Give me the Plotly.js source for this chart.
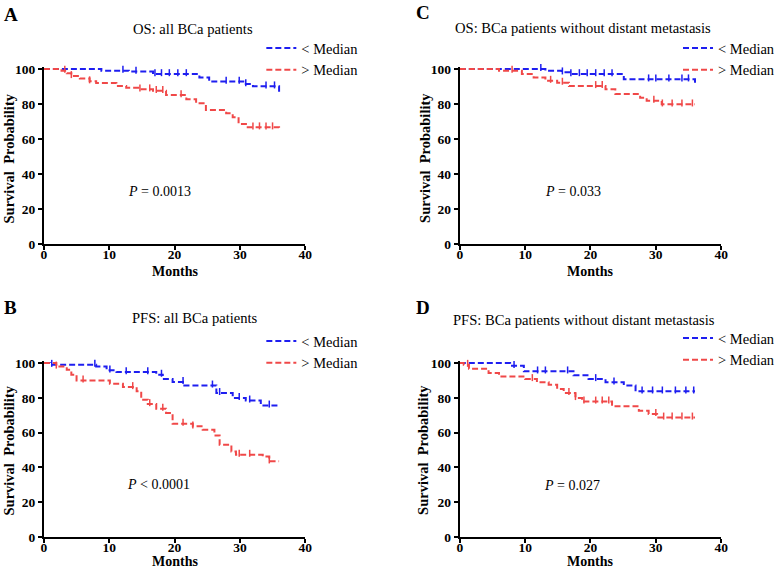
<!DOCTYPE html>
<html>
<head>
<meta charset="utf-8">
<script src="https://cdn.plot.ly/plotly-3.0.1.min.js"></script>
<style>html,body{margin:0;padding:0;background:#fff;}#chart{width:780px;height:571px;}</style>
</head>
<body>
<div id="chart"></div>
<script>
// ---- Data (months, survival %) ----
const panelLetters = ["A", "B", "C", "D"];
const panelTitles = [
  "OS: all BCa patients",
  "PFS: all BCa patients",
  "OS: BCa patients without distant metastasis",
  "PFS: BCa patients without distant metastasis"
];
const pValues = ["<i>P</i> = 0.0013", "<i>P</i> < 0.0001", "<i>P</i> = 0.033", "<i>P</i> = 0.027"];
const seriesNames = ["&lt; Median", "&gt; Median"];
const xTitle = "Months";
const yTitle = "Survival  Probability";
const xTicks = [0, 10, 20, 30, 40];
const yTicks = [0, 20, 40, 60, 80, 100];

// A: OS all patients
const tA_low  = [0, 8.8, 13, 16.7, 23.8, 25.3, 30.9, 32, 36, 36];
const sA_low  = [100, 99, 98.5, 97.1, 95.2, 92.8, 91.4, 90.1, 90.1, 85.5];
const cA_low  = [12.1, 14.1, 17, 18, 19.2, 20.5, 21.8, 27.9, 29.9, 30.9, 34, 35.3];
const tA_high = [0, 2.7, 3.5, 4.2, 5.5, 7, 8, 11.1, 12.6, 14.7, 16.7, 18.7, 21.8, 23.3, 24.8, 27.9, 28.9, 29.8, 31.2, 36, 36];
const sA_high = [100, 99, 97.5, 96, 94.5, 93, 92, 90.3, 89.3, 88.4, 87.5, 85.1, 82.7, 80.4, 76.6, 74.7, 72.4, 68.6, 66.7, 66.7, 65];
const cA_high = [3.2, 4.2, 7, 14.7, 16.2, 17.2, 18.2, 21, 32, 33, 34, 35];

// B: PFS all patients
const tB_low  = [0, 0.9, 8.0, 9.6, 11.1, 17.2, 18.2, 19.7, 21.5, 26.4, 28.9, 30.9, 33.2, 36];
const sB_low  = [100, 99, 98, 95.8, 94.8, 93.3, 90.8, 89.1, 87.1, 82.8, 79.9, 78.5, 75.6, 75.6];
const cB_low  = [1.2, 7.8, 10.1, 12.6, 15.9, 18, 21.3, 25.8, 26.9, 29.9, 31.5, 34.5];
const tB_high = [0, 1.9, 3.5, 4.2, 5.0, 10.1, 12.1, 14.2, 14.9, 15.9, 17.2, 18.7, 19.7, 22.8, 24.3, 26.1, 26.9, 28.7, 29.4, 33.5, 34.5, 36];
const sB_high = [100, 98, 96.1, 93.3, 90, 88.1, 86.2, 83.7, 78.9, 76.4, 73.7, 71.3, 65.1, 63.6, 61.7, 58.4, 53, 49.2, 47.3, 46.3, 43.5, 43.5];
const cB_high = [1.9, 6, 13.6, 16.2, 18.2, 21.3, 22.8, 29.9, 31.5, 34.5];

// C: OS without distant metastasis
const tC_low  = [0, 13.1, 15.6, 16.9, 25.1, 36, 36];
const sC_low  = [100, 99, 98.1, 97.1, 94.1, 94.1, 92.2];
const cC_low  = [12.4, 15.7, 17, 18.3, 19.5, 20.8, 22.1, 23.3, 28.9, 30, 32, 34, 35];
const tC_high = [0, 6.0, 9.5, 11.3, 13.1, 14.9, 16.7, 22.3, 23.8, 27.6, 28.6, 30.9, 36];
const sC_high = [100, 99, 97.1, 95.2, 93.3, 92.2, 90.3, 88.4, 85.7, 83.6, 81.9, 79.8, 79.8];
const cC_high = [8, 13.9, 15.7, 20.8, 21.8, 29.7, 31, 32.5, 34, 35.6];

// D: PFS without distant metastasis
const tD_low  = [0, 7.7, 9.8, 17.4, 19.7, 22.3, 25.1, 26.9, 36];
const sD_low  = [100, 98.4, 95.2, 92.9, 90.8, 88.9, 87.1, 83.7, 83.7];
const cD_low  = [8.3, 11.9, 13.1, 16.5, 20.8, 23.6, 27.9, 29.5, 31, 33, 34.6, 35.8];
const tD_high = [0, 0.6, 1.4, 4.4, 6.0, 10, 11.8, 13.6, 14.9, 15.9, 17.7, 18.7, 23.3, 27.4, 28.9, 30.2, 36];
const sD_high = [100, 99, 96.7, 94.2, 92.3, 90.8, 88.9, 87.5, 85.1, 82.8, 79.9, 77.9, 75.1, 72.6, 70.7, 68.7, 68.7];
const cD_high = [1.2, 11.1, 16.7, 17.7, 19, 20.8, 21.8, 22.8, 30, 31.2, 32.5, 34, 35.6];

// ---- Styling ----
const W = 780, H = 571;
const SERIF = "Liberation Serif, Times New Roman, serif";
const BLUE = "#1e1ef0";
const RED = "#f04848";
const colors = [BLUE, RED];
const Y_TOP = 101.2; // small headroom so the 100% line is not clipped

const curves = [
  [[tA_low, sA_low, cA_low], [tA_high, sA_high, cA_high]],
  [[tB_low, sB_low, cB_low], [tB_high, sB_high, cB_high]],
  [[tC_low, sC_low, cC_low], [tC_high, sC_high, cC_high]],
  [[tD_low, sD_low, cD_low], [tD_high, sD_high, cD_high]]
];

// survival value of a step curve at time c (Kaplan-Meier step lookup)
function stepAt(t, s, c) {
  let v = s[0];
  for (let i = 0; i < t.length; i++) {
    if (t[i] <= c) { v = s[i]; if (t[i] === c) break; } else break;
  }
  return v;
}

// plot-area pixel boxes [left, right, top(100), bottom(0)]
const boxes = [
  [44, 306, 69, 244],
  [44, 306, 363, 537],
  [461, 723, 69, 244],
  [461, 723, 363, 537]
];
const letterPos = [[2, 14], [2, 307], [415, 13], [415, 307]];
const titlePos = [[193, 29], [196, 318], [584, 28], [586, 320]];
const pPos = [[160, 191], [159, 484], [574, 191], [573, 485]];
const legendPos = [[262, 32], [262, 325], [680, 32], [680, 322]];
const xTitlePos = [[175, 280.5], [175, 571], [592, 280.5], [592, 571]]; // bottom edge of the title text
const yTitlePos = [[9.5, 158], [9.5, 450], [426, 158], [424, 450]];

const px = x => x / W;
const py = y => 1 - y / H;

const traces = [];
const layout = {
  width: W, height: H,
  margin: {l: 0, r: 0, t: 0, b: 0},
  paper_bgcolor: "white",
  plot_bgcolor: "white",
  showlegend: true,
  annotations: [],
  font: {family: SERIF, color: "black"}
};

curves.forEach((pair, i) => {
  const n = i + 1;
  const xa = "xaxis" + (n === 1 ? "" : n);
  const ya = "yaxis" + (n === 1 ? "" : n);
  const xr = "x" + (n === 1 ? "" : n);
  const yr = "y" + (n === 1 ? "" : n);
  const lg = "legend" + (n === 1 ? "" : n);
  const b = boxes[i];
  const topPx = b[3] - (b[3] - b[2]) * Y_TOP / 100;
  const axisCommon = {
    showline: true, linecolor: "black", linewidth: 2,
    ticks: "outside", ticklen: 4, tickwidth: 2, tickcolor: "black",
    showgrid: false, zeroline: false, fixedrange: true,
    tickfont: {family: SERIF, size: 13.5, color: "black", weight: "bold"}
  };
  layout[xa] = Object.assign({}, axisCommon, {
    domain: [px(b[0]), px(b[1])], anchor: yr, range: [0, 40],
    tickvals: xTicks, ticklabelstandoff: -7
  });
  layout[ya] = Object.assign({}, axisCommon, {
    domain: [py(b[3]), py(topPx)], anchor: xr, range: [0, Y_TOP],
    tickvals: yTicks
  });
  pair.forEach((c, k) => {
    traces.push({
      type: "scatter", mode: "lines",
      x: c[0], y: c[1],
      xaxis: xr, yaxis: yr,
      name: seriesNames[k],
      legend: lg, legendrank: k + 1,
      line: {color: colors[k], width: 2, dash: "6px,3px", shape: "hv"},
      cliponaxis: false,
      hoverinfo: "skip"
    });
    traces.push({
      type: "scatter", mode: "markers",
      x: c[2], y: c[2].map(v => stepAt(c[0], c[1], v) + 0.8),
      xaxis: xr, yaxis: yr,
      showlegend: false,
      marker: {symbol: "line-ns", size: 5, line: {color: colors[k], width: 1.5}},
      cliponaxis: false,
      hoverinfo: "skip"
    });
  });
  layout[lg] = {
    x: px(legendPos[i][0]), y: py(legendPos[i][1]),
    xref: "paper", yref: "paper",
    xanchor: "left", yanchor: "top",
    bgcolor: "rgba(0,0,0,0)", borderwidth: 0,
    font: {family: SERIF, size: 14.5, color: "black"},
    itemwidth: 30, tracegroupgap: 0, traceorder: "normal"
  };
  layout.annotations.push({
    text: panelLetters[i], xref: "paper", yref: "paper",
    x: px(letterPos[i][0]), y: py(letterPos[i][1]), xanchor: "left", yanchor: "middle",
    showarrow: false, font: {family: SERIF, size: 19, color: "black", weight: "bold"}
  });
  layout.annotations.push({
    text: panelTitles[i], xref: "paper", yref: "paper",
    x: px(titlePos[i][0]), y: py(titlePos[i][1]), xanchor: "center", yanchor: "middle",
    showarrow: false, font: {family: SERIF, size: 14.6, color: "black"}
  });
  layout.annotations.push({
    text: pValues[i], xref: "paper", yref: "paper",
    x: px(pPos[i][0]), y: py(pPos[i][1]), xanchor: "center", yanchor: "middle",
    showarrow: false, font: {family: SERIF, size: 14, color: "black"}
  });
  layout.annotations.push({
    text: xTitle, xref: "paper", yref: "paper",
    x: px(xTitlePos[i][0]), y: py(xTitlePos[i][1]), xanchor: "center", yanchor: "bottom",
    showarrow: false, font: {family: SERIF, size: 14, color: "black", weight: "bold"}
  });
  layout.annotations.push({
    text: yTitle, xref: "paper", yref: "paper", textangle: -90,
    x: px(yTitlePos[i][0]), y: py(yTitlePos[i][1]), xanchor: "center", yanchor: "middle",
    showarrow: false, font: {family: SERIF, size: 14.5, color: "black", weight: "bold"}
  });
});

Plotly.newPlot("chart", traces, layout, {displayModeBar: false, staticPlot: true});
</script>
</body>
</html>
